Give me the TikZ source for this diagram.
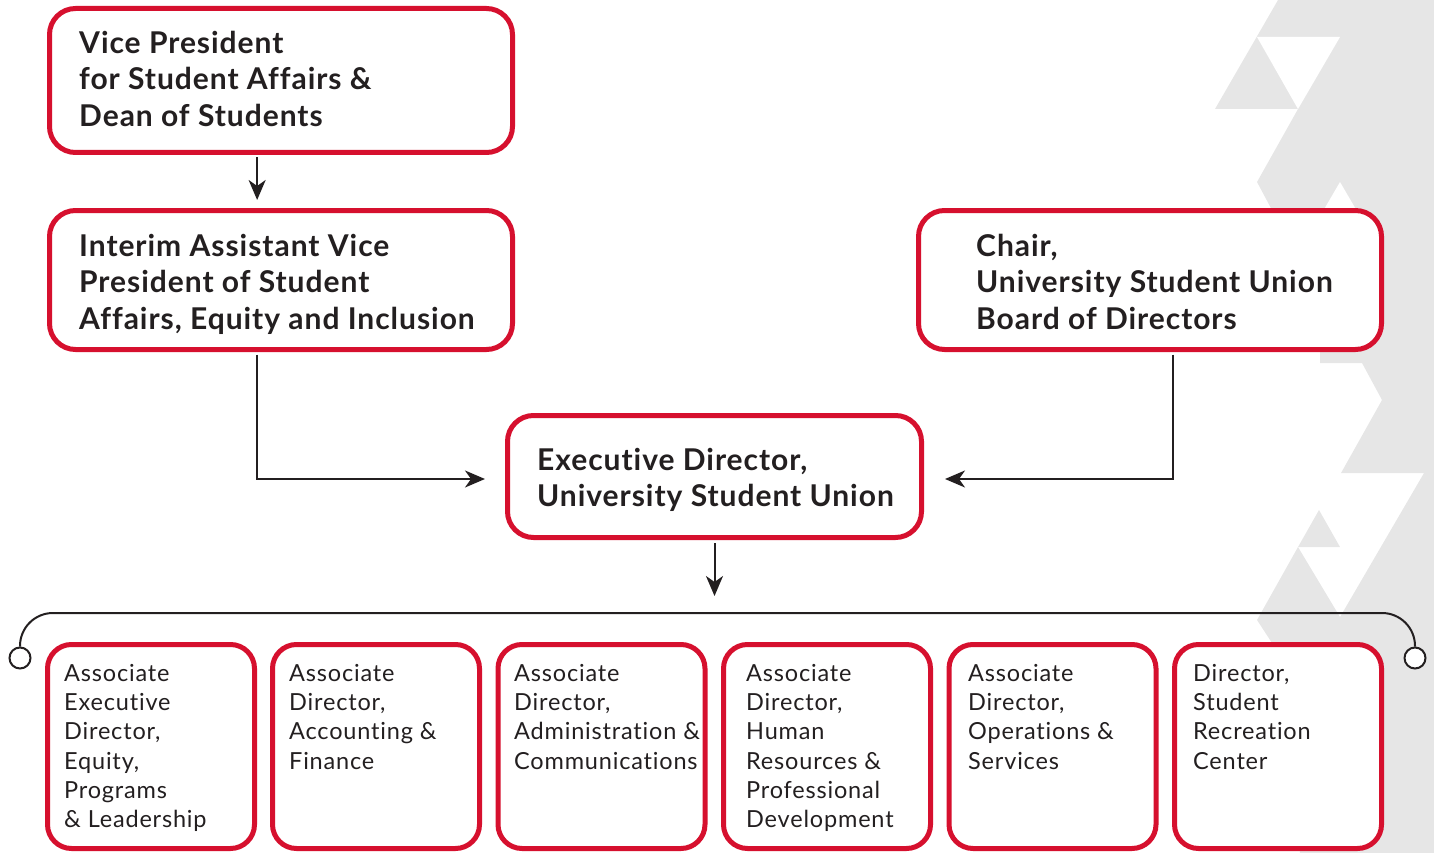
\documentclass[tikz,border=0pt]{standalone}
\usepackage{fontspec}
\setmainfont{Lato}
\newfontfamily\titlefont[LetterSpace=3.2,Ligatures=NoCommon]{Lato}
\newfontfamily\smallfont[LetterSpace=3.5,Ligatures=NoCommon]{Lato}
\usetikzlibrary{arrows.meta,calc}
\definecolor{usured}{HTML}{D6102E}
\definecolor{ink}{HTML}{231F20}
\definecolor{bggray}{HTML}{E6E6E6}
\begin{document}
\begin{tikzpicture}[x=1pt,y=-1pt,
  box/.style={draw=usured, line width=5pt, rounded corners=26pt, fill=white, inner sep=0pt},
  bigbox/.style={box, minimum width=463pt, minimum height=139pt},
  lowbox/.style={box, rounded corners=24pt, minimum width=207pt, minimum height=204pt},
  title/.style={anchor=north west, inner sep=0pt, align=left, text=ink, font=\titlefont\fontsize{30}{36.5}\selectfont\bfseries},
  small/.style={anchor=north west, inner sep=0pt, align=left, text=ink, font=\smallfont\fontsize{23.5}{29.3}\selectfont},
  conn/.style={draw=ink, line width=2pt},
  tip/.style={-{Stealth[length=20pt,width=17pt,inset=6pt]}},
  endring/.style={circle, draw=ink, line width=2pt, fill=white, minimum size=21pt, inner sep=0pt}]
\useasboundingbox (0,0) rectangle (1434,853);
% background triangles
\fill[bggray] (1278,0) -- (1434,0) -- (1434,473) -- (1341,473) -- (1382,400) -- (1362,363) -- (1320,363) -- (1320,300) -- (1257,182) -- (1298,109) -- (1215,109) -- cycle;
\fill[white] (1257,37) -- (1340,37) -- (1298,109) -- cycle;
\fill[white] (1340,182) -- (1298,254) -- (1382,254) -- cycle;
\fill[bggray] (1424,473) -- (1434,473) -- (1434,853) -- (1300,853) -- (1272,643) -- (1257,620) -- (1298,547) -- (1340,617) -- cycle;
\fill[bggray] (1319,510) -- (1298,547) -- (1340,547) -- cycle;
% boxes
\node[box, minimum width=463pt, minimum height=144pt] (vp) at (281,80.5) {};
\node[bigbox] (interim) at (281,280) {};
\node[bigbox] (chair) at (1150,280) {};
\node[box, minimum width=414pt, minimum height=122pt] (exec) at (714.5,476.5) {};
\node[lowbox] (b1) at (151,746.5) {};
\node[lowbox] (b2) at (376,746.5) {};
\node[lowbox] (b3) at (601.5,746.5) {};
\node[lowbox] (b4) at (827,746.5) {};
\node[lowbox] (b5) at (1052.5,746.5) {};
\node[lowbox] (b6) at (1278,746.5) {};
% texts
\node[title] (tvp) at (79,31) {Vice President\\for Student Affairs \&\\Dean of Students};
\node[title] (tinterim) at (79,234) {Interim Assistant Vice\\President of Student\\Affairs, Equity and Inclusion};
\node[title] (tchair) at (976,234) {Chair,\\University Student Union\\Board of Directors};
\node[title] (texec) at (537,448) {Executive Director,\\University Student Union};
\node[small] (t1) at (64,664) {Associate\\Executive\\Director,\\Equity,\\Programs\\\& Leadership};
\node[small] (t2) at (289,664) {Associate\\Director,\\Accounting \&\\Finance};
\node[small] (t3) at (514,664) {Associate\\Director,\\Administration \&\\Communications};
\node[small] (t4) at (746,664) {Associate\\Director,\\Human\\Resources \&\\Professional\\Development};
\node[small] (t5) at (968,664) {Associate\\Director,\\Operations \&\\Services};
\node[small] (t6) at (1193,664) {Director,\\Student\\Recreation\\Center};
% bracket
\node[endring] (cl) at (20,658) {};
\node[endring] (cr) at (1415,658) {};
\coordinate (bar) at (714.5,613);
\draw[conn, rounded corners=33pt] (cl.north) |- (bar) -| (cr.north);
% connectors
\coordinate (a1) at ($(vp.south west)!0.449!(vp.south east)$);
\coordinate (a2) at ($(interim.south west)!0.449!(interim.south east)$);
\coordinate (a3) at ($(chair.south west)!0.549!(chair.south east)$);
\coordinate (ein) at ($(exec.west)+(0,2.5)$);
\coordinate (eout) at ($(exec.east)+(0,2.5)$);
\draw[conn, tip, shorten <=2.5pt, shorten >=8pt] (a1) -- (a1 |- interim.north);
\draw[conn, tip, shorten <=2.5pt, shorten >=20pt] (a2) |- (ein);
\draw[conn, tip, shorten <=2.5pt, shorten >=21pt] (a3) |- (eout);
\draw[conn, tip, shorten <=3pt, shorten >=17pt] (exec.south) -- (bar);
\end{tikzpicture}
\end{document}
